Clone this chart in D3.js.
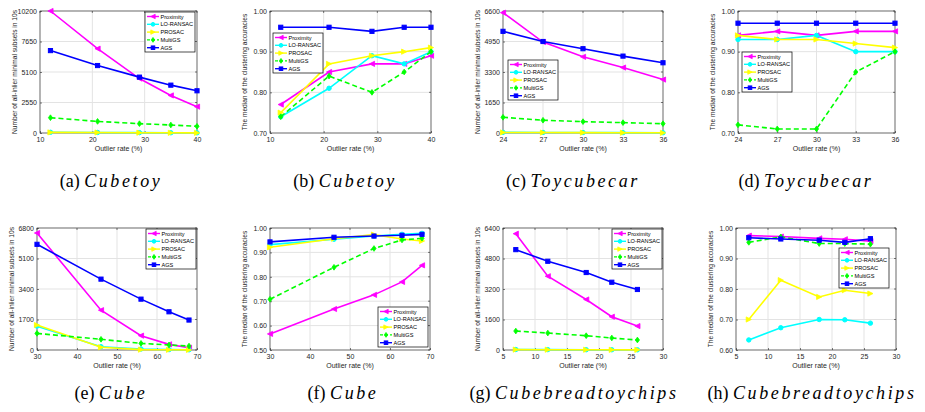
<!DOCTYPE html>
<html>
<head>
<meta charset="utf-8">
<script src="https://cdn.jsdelivr.net/npm/d3@7"></script>
<style>
  body { margin: 0; background: #fff; }
  .lbl { font-family: "Liberation Sans", Arial, sans-serif; }
  .cap { font-family: "Liberation Serif", "DejaVu Serif", "Times New Roman", serif; }
</style>
</head>
<body>
<svg id="chart" width="925" height="412"></svg>
<script>
// series order in every data array below
const methods = ["Proximity", "LO-RANSAC", "PROSAC", "MultiGS", "AGS"];
const colors = ["#ff00ff", "#00ffff", "#ffff00", "#00ff00", "#0000ff"];

// Cubetoy
const cubetoyX = [12, 21, 29, 35, 40];
const cubetoyCount = [
  [10200, 7050, 4550, 3140, 2200],
  [60, 45, 30, 20, 15],
  [50, 40, 25, 15, 10],
  [1280, 970, 780, 670, 560],
  [6890, 5640, 4670, 4000, 3530]
];
const cubetoyAcc = [
  [0.77, 0.85, 0.87, 0.87, 0.89],
  [0.74, 0.81, 0.89, 0.87, 0.90],
  [0.75, 0.87, 0.89, 0.90, 0.91],
  [0.74, 0.84, 0.80, 0.85, 0.90],
  [0.96, 0.96, 0.95, 0.96, 0.96]
];

// Toycubecar
const toycubecarX = [24, 27, 30, 33, 36];
const toycubecarCount = [
  [6510, 4920, 4120, 3540, 2890],
  [35, 30, 25, 20, 15],
  [30, 25, 20, 15, 10],
  [850, 690, 615, 560, 505],
  [5500, 4950, 4560, 4160, 3800]
];
const toycubecarAcc = [
  [0.94, 0.95, 0.94, 0.95, 0.95],
  [0.93, 0.93, 0.94, 0.90, 0.90],
  [0.94, 0.93, 0.93, 0.92, 0.91],
  [0.72, 0.71, 0.71, 0.85, 0.90],
  [0.97, 0.97, 0.97, 0.97, 0.97]
];

// Cube
const cubeX = [30, 46, 56, 63, 68];
const cubeCount = [
  [6520, 2220, 800, 315, 130],
  [1330, 185, 56, 20, 10],
  [1390, 150, 20, 10, 5],
  [925, 595, 370, 280, 220],
  [5890, 3950, 2835, 2130, 1670]
];
const cubeAcc = [
  [0.566, 0.668, 0.726, 0.779, 0.847],
  [0.932, 0.954, 0.967, 0.974, 0.978],
  [0.921, 0.956, 0.973, 0.955, 0.947],
  [0.708, 0.839, 0.916, 0.951, 0.958],
  [0.943, 0.962, 0.967, 0.970, 0.974]
];

// Cubebreadtoychips
const cbtcX = [7, 12, 18, 22, 26];
const cbtcCount = [
  [6100, 3870, 2650, 1745, 1255],
  [25, 20, 15, 12, 10],
  [20, 15, 12, 10, 8],
  [995, 890, 750, 630, 525],
  [5265, 4655, 4065, 3555, 3175]
];
const cbtcAcc = [
  [0.975, 0.972, 0.966, 0.963, 0.957],
  [0.633, 0.673, 0.700, 0.699, 0.688],
  [0.700, 0.829, 0.774, 0.796, 0.785],
  [0.953, 0.971, 0.949, 0.949, 0.947],
  [0.968, 0.964, 0.960, 0.953, 0.965]
];

const countLabel = "Number of all-inlier minimal subsets in 10s";
const accLabel = "The median of the clustering accuracies";
const fmtInt = d => String(d);
const fmtAcc = d3.format(".2f");

const panels = [
  { tag: "(a)", name: "Cubetoy", box: [40, 197, 11, 133], xd: [10, 40], xt: [10, 20, 30, 40], xs: cubetoyX,
    yd: [0, 10200], yt: [0, 2550, 5100, 7650, 10200], fmt: fmtInt, data: cubetoyCount, yl: countLabel, leg: [145, 12], cap: [111, 187] },
  { tag: "(b)", name: "Cubetoy", box: [270, 431, 11, 133], xd: [10, 40], xt: [10, 20, 30, 40], xs: cubetoyX,
    yd: [0.7, 1.0], yt: [0.7, 0.8, 0.9, 1.0], fmt: fmtAcc, data: cubetoyAcc, yl: accLabel, leg: [273, 33], cap: [345, 187] },
  { tag: "(c)", name: "Toycubecar", box: [503, 663, 11, 133], xd: [24, 36], xt: [24, 27, 30, 33, 36], xs: toycubecarX,
    yd: [0, 6600], yt: [0, 1650, 3300, 4950, 6600], fmt: fmtInt, data: toycubecarCount, yl: countLabel, leg: [508, 60], cap: [573, 187] },
  { tag: "(d)", name: "Toycubecar", box: [738, 895, 11, 133], xd: [24, 36], xt: [24, 27, 30, 33, 36], xs: toycubecarX,
    yd: [0.7, 1.0], yt: [0.7, 0.8, 0.9, 1.0], fmt: fmtAcc, data: toycubecarAcc, yl: accLabel, leg: [742, 52], cap: [806, 187] },
  { tag: "(e)", name: "Cube", box: [37, 197, 228, 350], xd: [30, 70], xt: [30, 40, 50, 60, 70], xs: cubeX,
    yd: [0, 6800], yt: [0, 1700, 3400, 5100, 6800], fmt: fmtInt, data: cubeCount, yl: countLabel, leg: [146, 229], cap: [111, 399] },
  { tag: "(f)", name: "Cube", box: [270, 430, 228, 350], xd: [30, 70], xt: [30, 40, 50, 60, 70], xs: cubeX,
    yd: [0.5, 1.0], yt: [0.5, 0.6, 0.7, 0.8, 0.9, 1.0], fmt: fmtAcc, data: cubeAcc, yl: accLabel, leg: [378, 307], cap: [343, 399] },
  { tag: "(g)", name: "Cubebreadtoychips", box: [503, 663, 228, 350], xd: [5, 30], xt: [5, 10, 15, 20, 25, 30], xs: cbtcX,
    yd: [0, 6400], yt: [0, 1600, 3200, 4800, 6400], fmt: fmtInt, data: cbtcCount, yl: countLabel, leg: [612, 229], cap: [574, 399] },
  { tag: "(h)", name: "Cubebreadtoychips", box: [736, 896, 228, 350], xd: [5, 30], xt: [5, 10, 15, 20, 25, 30], xs: cbtcX,
    yd: [0.6, 1.0], yt: [0.6, 0.7, 0.8, 0.9, 1.0], fmt: fmtAcc, data: cbtcAcc, yl: accLabel, leg: [839, 248], cap: [812, 399] }
];

const svg = d3.select("#chart");
const axisColor = "#262626";

// marker shapes per method
function marker(sel, i, x, y, s) {
  const c = colors[i];
  if (i === 0 || i === 2) {
    const dir = i === 0 ? -1 : 1;
    sel.append("path")
      .attr("d", `M${x + dir * s},${y} L${x - dir * s},${y - s} L${x - dir * s},${y + s} Z`)
      .attr("fill", c).attr("stroke", c).attr("stroke-width", 0.8);
  } else if (i === 1) {
    sel.append("circle").attr("cx", x).attr("cy", y).attr("r", s * 0.85)
      .attr("fill", c).attr("stroke", c);
  } else if (i === 3) {
    sel.append("path")
      .attr("d", `M${x},${y - s * 1.1} L${x + s * 0.8},${y} L${x},${y + s * 1.1} L${x - s * 0.8},${y} Z`)
      .attr("fill", c).attr("stroke", c).attr("stroke-width", 0.8);
  } else {
    sel.append("rect").attr("x", x - s * 0.8).attr("y", y - s * 0.8)
      .attr("width", s * 1.6).attr("height", s * 1.6)
      .attr("fill", c).attr("stroke", c);
  }
}

panels.forEach(p => {
  const [l, r, t, b] = p.box;
  const x = d3.scaleLinear().domain(p.xd).range([l, r]);
  const y = d3.scaleLinear().domain(p.yd).range([b, t]);
  const g = svg.append("g").attr("class", "lbl");

  // grid
  g.append("g").selectAll("line").data(p.xt).join("line")
    .attr("x1", d => x(d)).attr("x2", d => x(d)).attr("y1", t).attr("y2", b)
    .attr("stroke", "#e3e3e3").attr("stroke-width", 1);
  g.append("g").selectAll("line").data(p.yt).join("line")
    .attr("x1", l).attr("x2", r).attr("y1", d => y(d)).attr("y2", d => y(d))
    .attr("stroke", "#e3e3e3").attr("stroke-width", 1);

  // axes
  const xa = g.append("g").attr("transform", `translate(0,${b})`)
    .call(d3.axisBottom(x).tickValues(p.xt).tickSizeInner(-2).tickSizeOuter(0).tickPadding(4).tickFormat(d => d));
  const ya = g.append("g").attr("transform", `translate(${l},0)`)
    .call(d3.axisLeft(y).tickValues(p.yt).tickSizeInner(-2).tickSizeOuter(0).tickPadding(3).tickFormat(p.fmt));
  [xa, ya].forEach(a => {
    a.attr("font-family", null).attr("font-size", null);
    a.select(".domain").remove();
    a.selectAll("line").attr("stroke", axisColor).attr("stroke-width", 0.6);
    a.selectAll("text").attr("fill", axisColor).style("font-size", "7px");
  });
  // top / right ticks
  g.append("g").selectAll("line").data(p.xt).join("line")
    .attr("x1", d => x(d)).attr("x2", d => x(d)).attr("y1", t).attr("y2", t + 2)
    .attr("stroke", axisColor).attr("stroke-width", 0.6);
  g.append("g").selectAll("line").data(p.yt).join("line")
    .attr("x1", r).attr("x2", r - 2).attr("y1", d => y(d)).attr("y2", d => y(d))
    .attr("stroke", axisColor).attr("stroke-width", 0.6);

  g.append("rect").attr("x", l).attr("y", t).attr("width", r - l).attr("height", b - t)
    .attr("fill", "none").attr("stroke", axisColor).attr("stroke-width", 0.6);

  // labels
  g.append("text").attr("x", (l + r) / 2).attr("y", b + 18).attr("text-anchor", "middle")
    .attr("fill", axisColor).style("font-size", "7px").text("Outlier rate (%)");
  g.append("text").attr("transform", `translate(${l - 23},${(t + b) / 2}) rotate(-90)`)
    .attr("text-anchor", "middle").attr("fill", axisColor).style("font-size", "6.6px").text(p.yl);

  // series
  const line = d3.line().x((d, j) => x(p.xs[j])).y(d => y(d));
  p.data.forEach((vals, i) => {
    const sg = g.append("g");
    sg.append("path").datum(vals).attr("d", line)
      .attr("fill", "none").attr("stroke", colors[i]).attr("stroke-width", 1.6)
      .attr("stroke-dasharray", i === 3 ? "5,3" : null);
    vals.forEach((v, j) => marker(sg, i, x(p.xs[j]), y(v), 2.6));
  });

  // legend
  const [lx, ly] = p.leg;
  const lg = g.append("g");
  lg.append("rect").attr("x", lx).attr("y", ly).attr("width", 50).attr("height", 40)
    .attr("fill", "#fff").attr("stroke", "#000").attr("stroke-width", 0.7);
  methods.forEach((m, i) => {
    const yy = ly + 4.5 + i * 7.8;
    lg.append("line").attr("x1", lx + 2).attr("x2", lx + 14).attr("y1", yy).attr("y2", yy)
      .attr("stroke", colors[i]).attr("stroke-width", 1.4)
      .attr("stroke-dasharray", i === 3 ? "3,2" : null);
    marker(lg, i, lx + 8, yy, 2.2);
    lg.append("text").attr("x", lx + 15.5).attr("y", yy + 2).attr("fill", "#000")
      .style("font-size", "5.6px").text(m);
  });

  // caption: "(x)" upright, dataset name in wide math-style italic
  const cap = svg.append("text").attr("class", "cap").attr("x", p.cap[0]).attr("y", p.cap[1])
    .attr("text-anchor", "middle").attr("font-size", 18).attr("fill", "#000");
  cap.append("tspan").text(p.tag + " ");
  cap.append("tspan").attr("font-style", "italic").attr("letter-spacing", 2.6).text(p.name);
});
</script>
</body>
</html>
